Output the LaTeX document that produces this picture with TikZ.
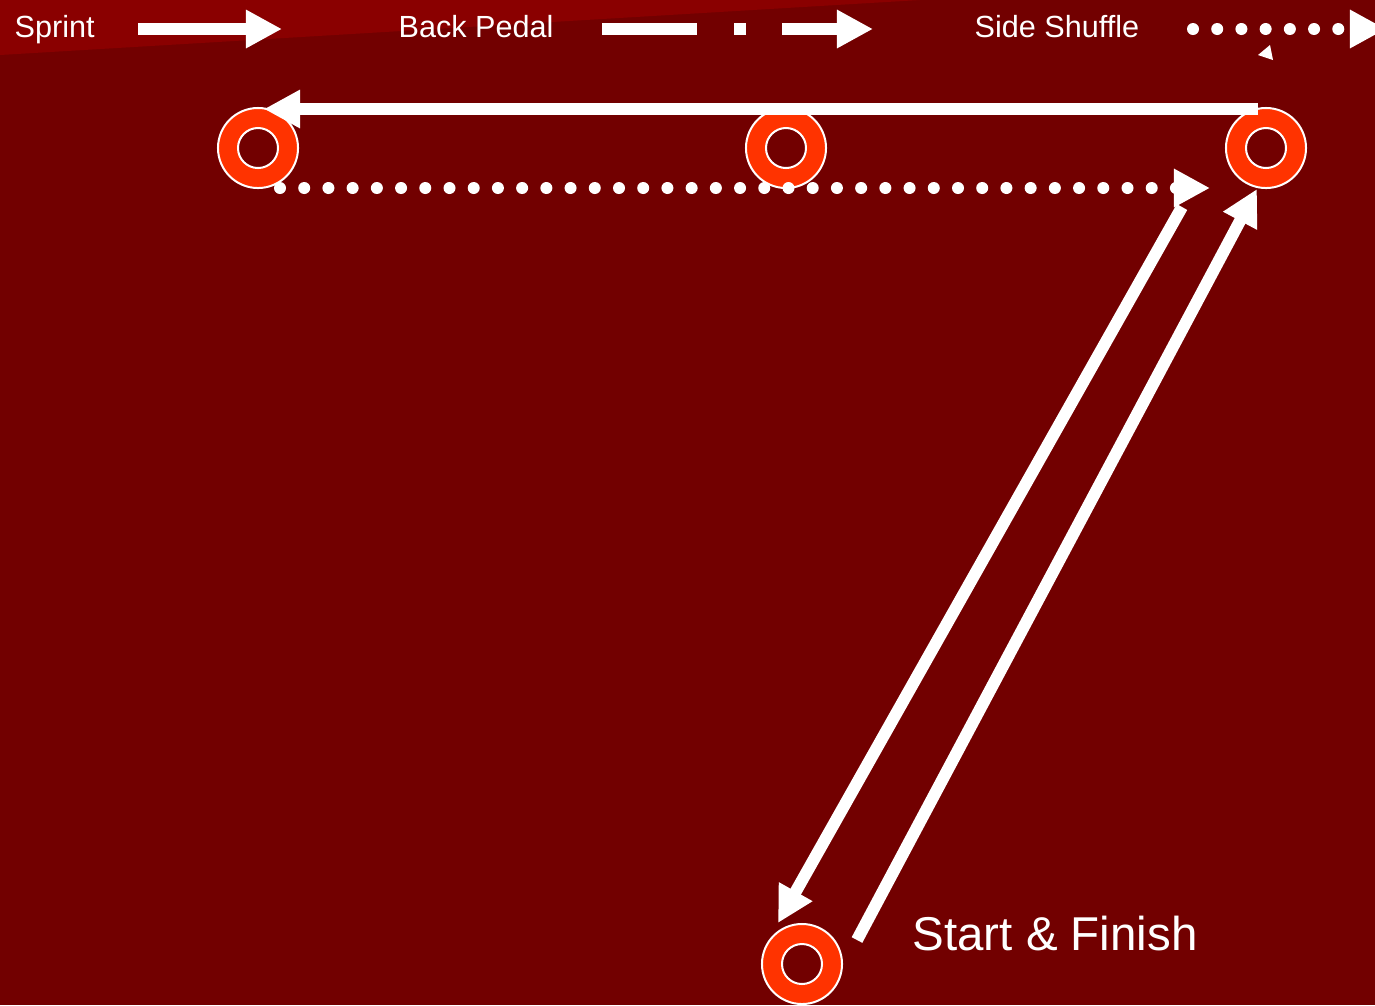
\documentclass[tikz,border=0pt]{standalone}
\usepackage{fontspec}
\setmainfont{Liberation Sans}
\usetikzlibrary{arrows.meta, calc}
\definecolor{fieldred}{HTML}{720000}
\definecolor{bandred}{HTML}{8A0000}
\definecolor{conered}{HTML}{FF3300}
\tikzset{
  cone/.style={circle, draw=white, line width=0.02cm, fill=conered, minimum size=0.8cm, inner sep=0pt},
  conehole/.style={circle, draw=white, line width=0.02cm, fill=fieldred, minimum size=0.4cm, inner sep=0pt},
  run/.style={white, line width=0.12cm, -{Triangle[length=0.36cm, width=0.36cm]}},
  sprintline/.style={run},
  pedalline/.style={run, dash pattern=on 0.95cm off 0.37cm on 0.12cm off 0.36cm on 4cm},
  shuffleline/.style={run, line cap=round, dash pattern=on 0pt off 0.242cm},
  legend/.style={text=white, inner sep=0pt, anchor=base west, font=\fontsize{8.7}{10}\selectfont},
}
\newcommand{\cone}[2]{%
  \node[cone] (#1) at (#2) {};
  \node[conehole] (#1-hole) at (#2) {};}

\begin{document}
\begin{tikzpicture}[x=0.01cm, y=-0.01cm]
  \useasboundingbox (0,0) rectangle (1375,1005);
  \clip (0,0) rectangle (1375,1005);
  \fill[fieldred] (0,0) rectangle (1375,1005);
  \fill[bandred] (0,0) -- (0,55) -- (920,0) -- cycle;

  % legend
  \node[legend] (sprint) at (14,37) {Sprint};
  \node[legend] (pedal) at (398,37) {Back Pedal};
  \node[legend] (shuffle) at (974,37) {Side Shuffle};
  \coordinate (sprintA) at (138,29);
  \coordinate (sprintB) at (282,29);
  \coordinate (pedalA) at (602,29);
  \coordinate (pedalB) at (873,29);
  \coordinate (shuffleA) at (1193,29);
  \coordinate (shuffleB) at (1386,29);
  \draw[sprintline] (sprintA) -- (sprintB);
  \draw[pedalline] (pedalA) -- (pedalB);
  \draw[shuffleline] (shuffleA) -- (shuffleB);
  \fill[white] (1258,55) -- (1270,45) -- (1273,60) -- cycle;

  % cones
  \cone{coneA}{258,148}
  \cone{coneB}{786,148}
  \cone{coneC}{1266,148}
  \cone{coneD}{802,964}

  % course
  \draw[sprintline] ($(coneC)+(-8,-39)$) -- ($(coneA)+(6,-39)$);
  \draw[shuffleline] ($(coneA)+(22,40)$) -- ($(coneC)+(-56,40)$);
  \draw[sprintline] ($(coneC)+(-84,59)$) -- ($(coneD)+(-24,-41)$);
  \draw[sprintline] ($(coneD)+(55,-24)$) -- ($(coneC)+(-9,41)$);

  \node[text=white, inner sep=0pt, anchor=base west, font=\fontsize{13.5}{16}\selectfont]
    (start) at (912,950) {Start \& Finish};
\end{tikzpicture}
\end{document}
